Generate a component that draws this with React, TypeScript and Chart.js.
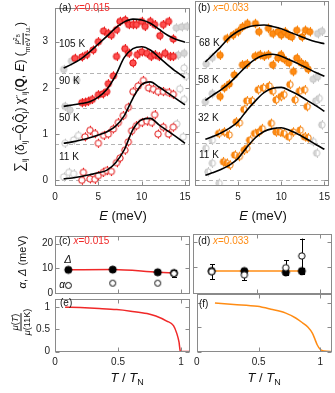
import React, { useEffect, useRef } from "react";
import { Chart, registerables } from "chart.js";
Chart.register(...registerables);

const FONT = "'Liberation Sans', Arial, Helvetica, sans-serif";

// ---------------- top panels: spectra ----------------
const BASELINES = [0, 0.78, 1.56, 2.33];
const FIT_E_A = [1, 2, 3, 4, 5, 6, 7, 8, 9, 10, 11, 12, 13, 14, 15];
const FIT_E_B = [1.2, 2, 3, 4, 5, 6, 7, 8, 9, 10, 11, 12, 13, 14, 15];

// (a) x = 0.015 : fitted curves
const FIT_A_105K = [2.43, 2.52, 2.63, 2.78, 2.95, 3.12, 3.3, 3.43, 3.49, 3.47, 3.4, 3.27, 3.14, 3.05, 2.99];
const FIT_A_90K = [1.6, 1.63, 1.66, 1.7, 1.8, 1.97, 2.27, 2.66, 2.85, 2.89, 2.82, 2.66, 2.5, 2.35, 2.22];
const FIT_A_50K = [0.8, 0.83, 0.87, 0.92, 0.98, 1.05, 1.17, 1.4, 1.78, 2.07, 2.13, 2.02, 1.89, 1.76, 1.63];
const FIT_A_11K = [0.03, 0.05, 0.08, 0.12, 0.16, 0.22, 0.38, 0.66, 1.1, 1.31, 1.34, 1.2, 1.07, 0.94, 0.8];

// (a) data points
const A105_E = [2.3, 3.1, 3.65, 4.4, 5.0, 5.6, 6.15, 6.5, 7.1, 7.5, 8.1, 8.5, 9.0, 9.4, 10.0, 10.4, 11.0, 11.5, 12.1, 12.5, 13.1, 13.65];
const A105_V = [2.64, 2.67, 2.72, 2.82, 3.0, 3.23, 3.18, 3.14, 3.26, 3.44, 3.47, 3.37, 3.37, 3.37, 3.44, 3.33, 3.44, 3.37, 3.13, 3.37, 3.44, 3.06];
const A90_E = [3.1, 3.5, 3.85, 4.3, 5.0, 5.5, 5.96, 6.15, 6.73, 7.1, 8.07, 8.5, 9.0, 9.5, 10.0, 10.6, 11.1, 11.5, 12.0, 12.7, 13.3, 13.65];
const A90_V = [1.68, 1.69, 1.71, 1.75, 1.85, 1.87, 1.92, 2.09, 2.26, 2.68, 2.85, 2.75, 2.54, 2.72, 2.78, 2.75, 2.68, 2.72, 2.68, 2.75, 2.68, 2.68];
const A50_E = [3.46, 4.04, 4.6, 5.0, 5.6, 6.15, 6.73, 7.3, 7.88, 8.46, 9.0, 9.6, 10.2, 10.8, 11.35, 11.9, 12.5, 13.1, 13.65];
const A50_V = [0.94, 1.08, 1.01, 0.8, 0.97, 1.0, 1.11, 1.25, 1.4, 1.58, 1.92, 2.04, 2.16, 2.0, 1.97, 1.92, 1.92, 1.9, 1.86];
const A11_E = [3.1, 3.27, 4.04, 4.6, 5.0, 5.58, 5.96, 6.5, 7.1, 7.5, 8.07, 8.46, 8.85, 9.4, 10.0, 10.6, 11.15, 11.5, 11.9, 12.5, 13.1, 13.65];
const A11_V = [0.0, 0.17, 0.03, 0.02, 0.1, 0.17, 0.21, 0.19, 0.38, 0.48, 0.65, 0.83, 1.07, 1.18, 1.25, 1.28, 1.25, 1.42, 1.0, 1.15, 1.0, 1.15];
const A_GRAY_FULL_E = [1.0, 1.9, 14.0, 14.6, 15.2, 1.15, 1.73, 2.5, 14.2, 14.9];
const A_GRAY_FULL_V = [2.4, 2.58, 3.3, 3.32, 3.33, 1.6, 1.52, 2.17, 2.71, 2.75];
const A_GRAY_OPEN_E = [14.9, 15.1, 1.15, 2.15, 2.7, 14.4, 14.9, 1.0, 1.6, 2.15, 14.05, 14.8];
const A_GRAY_OPEN_V = [2.43, 2.25, 0.8, 0.87, 0.97, 1.98, 1.75, 0.07, 0.17, 0.14, 1.22, 0.94];

// (b) x = 0.033 : fitted curves
const FIT_B_68K = [2.46, 2.6, 2.78, 2.97, 3.1, 3.18, 3.22, 3.23, 3.2, 3.15, 3.08, 3.01, 2.94, 2.88, 2.84];
const FIT_B_58K = [1.66, 1.76, 1.88, 2.02, 2.2, 2.38, 2.52, 2.6, 2.62, 2.58, 2.5, 2.42, 2.33, 2.24, 2.16];
const FIT_B_32K = [0.85, 0.9, 0.98, 1.08, 1.22, 1.45, 1.65, 1.82, 1.91, 1.93, 1.86, 1.77, 1.66, 1.55, 1.43];
const FIT_B_11K = [0.1, 0.15, 0.22, 0.31, 0.45, 0.68, 0.88, 1.01, 1.07, 1.09, 1.03, 0.95, 0.85, 0.74, 0.64];

// (b) data points
const B68_E = [2.9, 3.67, 4.4, 4.96, 5.5, 6.07, 7.0, 7.4, 8.5, 9.0, 9.6, 10.0, 10.4, 10.8, 11.2, 11.8, 12.4, 12.8, 13.3];
const B68_V = [2.6, 2.95, 3.02, 3.09, 3.19, 3.26, 3.26, 3.09, 3.16, 3.05, 3.09, 3.02, 3.09, 3.02, 2.98, 3.12, 2.98, 3.12, 3.09];
const B58_E = [2.9, 3.4, 3.96, 4.55, 5.5, 6.0, 6.96, 7.5, 8.0, 8.5, 9.0, 9.6, 9.96, 10.3, 10.85, 11.4, 11.8, 12.3, 12.8, 13.1];
const B58_V = [1.74, 1.92, 2.0, 2.19, 2.4, 2.42, 2.58, 2.61, 2.58, 2.61, 2.4, 2.54, 2.61, 2.52, 2.44, 2.26, 2.54, 2.44, 2.4, 2.31];
const B32_E = [2.74, 3.4, 3.96, 4.78, 5.15, 5.67, 6.0, 6.6, 7.33, 7.9, 8.6, 9.0, 9.4, 9.96, 10.3, 11.0, 11.6, 12.1, 12.7, 13.0];
const B32_V = [0.97, 1.0, 0.94, 1.21, 1.19, 1.47, 1.65, 1.65, 1.88, 1.92, 1.96, 1.85, 1.67, 1.74, 1.78, 1.99, 1.67, 1.85, 1.88, 1.53];
const B11_E = [3.3, 3.67, 4.04, 4.6, 5.15, 5.7, 6.0, 6.33, 6.9, 7.4, 7.8, 8.85, 9.4, 9.8, 10.3, 10.85, 11.4, 12.2, 12.7, 13.1];
const B11_V = [0.38, 0.35, 0.31, 0.52, 0.49, 0.62, 0.66, 0.83, 0.97, 1.0, 1.07, 1.18, 1.0, 1.0, 0.97, 0.9, 1.0, 1.04, 0.9, 0.88];
const B_GRAY_FULL_E = [1.3, 2.0, 14.2, 14.7, 1.2, 2.0, 13.7, 14.2];
const B_GRAY_FULL_V = [2.42, 2.55, 3.05, 3.1, 1.63, 1.8, 2.1, 2.15];
const B_GRAY_OPEN_E = [1.26, 2.0, 14.0, 14.4, 1.5, 2.0, 2.8, 13.7, 14.1, 14.7];
const B_GRAY_OPEN_V = [0.66, 0.83, 1.65, 1.7, 0.17, 0.35, -0.07, 0.8, 0.56, 1.15];
const SPEC_ERR = 0.1;

// ---------------- middle panels: alpha, Delta ----------------
const TN_C = [0.106, 0.458, 0.815, 0.944];
const DELTA_C = [9.4, 9.5, 8.4, 8.1];
const ALPHA_C = [3.1, 4.0, 4.0, 7.9];
const ALPHA_C_ERR = [0, 0, 0, 1.6];
const TN_D = [0.147, 0.404, 0.73, 0.856];
const DELTA_D = [8.6, 8.6, 8.1, 8.6];
const DELTA_D_ERR = [0, 0.7, 0.8, 1.2];
const ALPHA_D = [8.35, 7.1, 9.9, 14.5];
const ALPHA_D_ERR = [3.0, 2.0, 2.9, 6.8];
const TN_D_LINE = [0.147, 0.856];
const DELTA_D_LINE = [8.6, 8.6];

// ---------------- bottom panels: mu(T)/mu(11K) ----------------
const MU_E_T = [0.08, 0.2, 0.35, 0.49, 0.6, 0.73, 0.8, 0.886, 0.94, 0.966, 0.984, 0.993, 1.0, 1.07];
const MU_E = [1.0, 0.99, 0.97, 0.945, 0.91, 0.857, 0.8, 0.687, 0.585, 0.41, 0.21, 0.02, 0, 0];
const MU_F_T = [0.147, 0.3, 0.49, 0.6, 0.72, 0.8, 0.856, 0.9, 0.935, 0.955, 0.974, 1.0, 1.03, 1.1];
const MU_F = [1.0, 0.97, 0.93, 0.87, 0.79, 0.69, 0.59, 0.5, 0.38, 0.26, 0.14, 0.04, 0.01, 0];

// ---------------- styles ----------------
const RED = "#f02828";
const RED_EDGE = "#e01010";
const ORANGE = "#ff8c14";
const ORANGE_EDGE = "#f07800";
const GRAY_EDGE = "#c4c4c4";

function mkMarker(fill: string, edge: string, mode: string, r = 3.2) {
  const s = Math.ceil(2 * r + 3);
  const c = document.createElement("canvas");
  c.width = s;
  c.height = s;
  const g = c.getContext("2d")!;
  const cx = s / 2;
  g.beginPath();
  g.arc(cx, cx, r, 0, Math.PI * 2);
  g.fillStyle = mode === "full" ? fill : "#ffffff";
  g.fill();
  if (mode === "half") {
    g.beginPath();
    g.arc(cx, cx, r, Math.PI / 2, (3 * Math.PI) / 2);
    g.closePath();
    g.fillStyle = fill;
    g.fill();
  }
  g.beginPath();
  g.arc(cx, cx, r, 0, Math.PI * 2);
  g.lineWidth = 1;
  g.strokeStyle = edge;
  g.stroke();
  return c;
}

const xy = (xs: number[], ys: number[]) => xs.map((x, i) => ({ x, y: ys[i] }));
const pts = (xs: number[], ys: number[], style: any, errColor: string, errY: any, order = 2, errCap = 0) => ({
  type: "scatter",
  data: xy(xs, ys),
  pointStyle: style,
  pointRadius: 4,
  pointHoverRadius: 4,
  errY,
  errColor,
  errCap,
  order,
});
const curve = (xs: number[], ys: number[], color: string, width = 1.6, order = 0) => ({
  type: "line",
  data: xy(xs, ys),
  borderColor: color,
  borderWidth: width,
  pointRadius: 0,
  cubicInterpolationMode: "monotone",
  fill: false,
  order,
});

type Cfg = {
  l: number; t: number; w: number; h: number;
  padL: number; padT: number; padR: number; padB: number;
  x: number[]; y: number[];
  xTicks: number[]; yTicks: number[];
  xLab?: (v: number) => string; yLab?: (v: number) => string;
  xPad?: number; yPad?: number;
  baselines?: number[];
  datasets: () => any[];
};

function Panel({ c }: { c: Cfg }) {
  const ref = useRef<HTMLCanvasElement>(null);
  const W = c.w + c.padL + c.padR;
  const H = c.h + c.padT + c.padB;
  useEffect(() => {
    const deco = {
      id: "deco",
      beforeDatasetsDraw(chart: any) {
        const { ctx, chartArea: a, scales } = chart;
        const xs = scales.x, ys = scales.y;
        ctx.save();
        ctx.beginPath();
        ctx.rect(a.left, a.top, a.right - a.left, a.bottom - a.top);
        ctx.clip();
        ctx.lineWidth = 1;
        ctx.strokeStyle = "#b4b4b4";
        ctx.setLineDash([4, 3]);
        for (const b of c.baselines || []) {
          const py = Math.round(ys.getPixelForValue(b)) + 0.5;
          ctx.beginPath();
          ctx.moveTo(a.left, py);
          ctx.lineTo(a.right, py);
          ctx.stroke();
        }
        ctx.setLineDash([]);
        chart.data.datasets.forEach((ds: any) => {
          if (!ds.errY) return;
          ctx.strokeStyle = ds.errColor;
          ctx.lineWidth = 1;
          ds.data.forEach((p: any, i: number) => {
            const e = Array.isArray(ds.errY) ? ds.errY[i] : ds.errY;
            if (!e) return;
            const px = Math.round(xs.getPixelForValue(p.x)) + 0.5;
            const y1 = ys.getPixelForValue(p.y - e);
            const y2 = ys.getPixelForValue(p.y + e);
            ctx.beginPath();
            ctx.moveTo(px, y1);
            ctx.lineTo(px, y2);
            if (ds.errCap) {
              ctx.moveTo(px - ds.errCap, Math.round(y1) + 0.5);
              ctx.lineTo(px + ds.errCap, Math.round(y1) + 0.5);
              ctx.moveTo(px - ds.errCap, Math.round(y2) + 0.5);
              ctx.lineTo(px + ds.errCap, Math.round(y2) + 0.5);
            }
            ctx.stroke();
          });
        });
        ctx.restore();
      },
      afterDraw(chart: any) {
        const { ctx, chartArea: a, scales } = chart;
        const xs = scales.x, ys = scales.y;
        const L = Math.round(a.left) + 0.5, R = Math.round(a.right) - 0.5;
        const T = Math.round(a.top) + 0.5, B = Math.round(a.bottom) - 0.5;
        ctx.save();
        ctx.strokeStyle = "#8a8a8a";
        ctx.lineWidth = 1;
        ctx.strokeRect(L, T, R - L, B - T);
        ctx.beginPath();
        for (const v of c.xTicks) {
          const px = Math.round(xs.getPixelForValue(v)) + 0.5;
          ctx.moveTo(px, B); ctx.lineTo(px, B - 4);
          ctx.moveTo(px, T); ctx.lineTo(px, T + 4);
        }
        for (const v of c.yTicks) {
          const py = Math.round(ys.getPixelForValue(v)) + 0.5;
          ctx.moveTo(L, py); ctx.lineTo(L + 4, py);
          ctx.moveTo(R, py); ctx.lineTo(R - 4, py);
        }
        ctx.stroke();
        ctx.restore();
      },
    };
    const tickFont = { family: FONT, size: 10 };
    const chart = new Chart(ref.current!, {
      type: "scatter",
      data: { datasets: c.datasets() as any },
      options: {
        animation: false,
        responsive: false,
        maintainAspectRatio: false,
        devicePixelRatio: 1,
        layout: { padding: { left: 0, top: c.padT, right: c.padR, bottom: 0 }, autoPadding: false },
        plugins: { legend: { display: false }, tooltip: { enabled: false } },
        events: [],
        scales: {
          x: {
            type: "linear", min: c.x[0], max: c.x[1],
            grid: { display: false, drawTicks: false }, border: { display: false },
            ticks: {
              display: !!c.xLab, font: tickFont, color: "#222", padding: c.xPad ?? 4,
              maxRotation: 0, autoSkip: false,
              callback: (v: any) => (c.xLab ? c.xLab(Number(v)) : ""),
            },
            afterBuildTicks: (s: any) => { s.ticks = c.xTicks.map((v) => ({ value: v })); },
            afterFit: (s: any) => { s.height = c.padB; },
          },
          y: {
            type: "linear", min: c.y[0], max: c.y[1],
            grid: { display: false, drawTicks: false }, border: { display: false },
            ticks: {
              display: !!c.yLab, font: tickFont, color: "#222", padding: c.yPad ?? 4,
              autoSkip: false,
              callback: (v: any) => (c.yLab ? c.yLab(Number(v)) : ""),
            },
            afterBuildTicks: (s: any) => { s.ticks = c.yTicks.map((v) => ({ value: v })); },
            afterFit: (s: any) => { s.width = c.padL; },
          },
        },
      } as any,
      plugins: [deco],
    });
    return () => chart.destroy();
  }, []);
  return (
    <canvas
      ref={ref}
      width={W}
      height={H}
      style={{ position: "absolute", left: c.l - c.padL, top: c.t - c.padT, width: W, height: H }}
    />
  );
}

const str = (v: number) => String(v);

const specDatasetsA = () => {
  const full = mkMarker("#ff5050", RED_EDGE, "full");
  const open = mkMarker("#fff", RED_EDGE, "open");
  const gFull = mkMarker("#d6d6d6", GRAY_EDGE, "full");
  const gOpen = mkMarker("#fff", GRAY_EDGE, "open");
  return [
    curve(FIT_E_A, FIT_A_105K, "#000"),
    curve(FIT_E_A, FIT_A_90K, "#000"),
    curve(FIT_E_A, FIT_A_50K, "#000"),
    curve(FIT_E_A, FIT_A_11K, "#000"),
    pts(A105_E, A105_V, full, RED, SPEC_ERR),
    pts(A90_E, A90_V, full, RED, SPEC_ERR),
    pts(A50_E, A50_V, open, RED, SPEC_ERR),
    pts(A11_E, A11_V, open, RED, SPEC_ERR),
    pts(A_GRAY_FULL_E, A_GRAY_FULL_V, gFull, GRAY_EDGE, SPEC_ERR, 3),
    pts(A_GRAY_OPEN_E, A_GRAY_OPEN_V, gOpen, GRAY_EDGE, SPEC_ERR, 3),
  ];
};

const specDatasetsB = () => {
  const full = mkMarker(ORANGE, ORANGE_EDGE, "full");
  const half = mkMarker(ORANGE, ORANGE_EDGE, "half");
  const gFull = mkMarker("#d6d6d6", GRAY_EDGE, "full");
  const gHalf = mkMarker("#d6d6d6", GRAY_EDGE, "half");
  return [
    curve(FIT_E_B, FIT_B_68K, "#000"),
    curve(FIT_E_B, FIT_B_58K, "#000"),
    curve(FIT_E_B, FIT_B_32K, "#000"),
    curve(FIT_E_B, FIT_B_11K, "#000"),
    pts(B68_E, B68_V, full, ORANGE, SPEC_ERR),
    pts(B58_E, B58_V, full, ORANGE, SPEC_ERR),
    pts(B32_E, B32_V, half, ORANGE, SPEC_ERR),
    pts(B11_E, B11_V, half, ORANGE, SPEC_ERR),
    pts(B_GRAY_FULL_E, B_GRAY_FULL_V, gFull, GRAY_EDGE, SPEC_ERR, 3),
    pts(B_GRAY_OPEN_E, B_GRAY_OPEN_V, gHalf, GRAY_EDGE, SPEC_ERR, 3),
  ];
};

const TOP_Y = [-0.125, 3.73];
const MID_Y = [-0.39, 23.1];
const BOT_Y = [-0.01, 1.184];

const PANELS: Cfg[] = [
  {
    l: 55, t: 1, w: 135, h: 185, padL: 25, padT: 6, padR: 6, padB: 22,
    x: [0, 15.58], y: TOP_Y, xTicks: [0, 5, 10, 15], yTicks: [0, 1, 2, 3],
    xLab: str, yLab: str, xPad: 5, yPad: 7, baselines: BASELINES, datasets: specDatasetsA,
  },
  {
    l: 193, t: 1, w: 139, h: 185, padL: 3, padT: 6, padR: 3, padB: 22,
    x: [0, 15.56], y: TOP_Y, xTicks: [0, 5, 10, 15], yTicks: [0, 1, 2, 3],
    xLab: (v) => (v === 0 ? "" : String(v)), xPad: 5, baselines: BASELINES, datasets: specDatasetsB,
  },
  {
    l: 55, t: 234, w: 135, h: 60, padL: 25, padT: 6, padR: 3, padB: 8,
    x: [0, 1.071], y: MID_Y, xTicks: [0, 0.5, 1], yTicks: [0, 10, 20], yLab: str, yPad: 2,
    datasets: () => [
      curve(TN_C, DELTA_C, RED, 1.5, 2),
      pts(TN_C, DELTA_C, mkMarker("#000", "#000", "full", 3.6), "#000", null, 1),
      pts(TN_C, ALPHA_C, mkMarker("#fff", "#000", "open", 3), "#000", ALPHA_C_ERR, 0, 2.5),
    ],
  },
  {
    l: 193, t: 234, w: 139, h: 60, padL: 3, padT: 6, padR: 3, padB: 8,
    x: [0, 1.094], y: MID_Y, xTicks: [0, 0.5, 1], yTicks: [0, 10, 20],
    datasets: () => [
      curve(TN_D_LINE, DELTA_D_LINE, ORANGE, 1.5, 2),
      pts(TN_D, DELTA_D, mkMarker("#000", "#000", "full", 3.6), "#000", DELTA_D_ERR, 1, 2.5),
      pts(TN_D, ALPHA_D, mkMarker("#fff", "#000", "open", 3.2), "#000", ALPHA_D_ERR, 0, 2.5),
    ],
  },
  {
    l: 55, t: 294, w: 135, h: 58, padL: 25, padT: 6, padR: 6, padB: 20,
    x: [0, 1.071], y: BOT_Y, xTicks: [0, 0.5, 1], yTicks: [0, 0.5, 1], xLab: str, yLab: str, xPad: 4, yPad: 5,
    datasets: () => [curve(MU_E_T, MU_E, RED, 1.5)],
  },
  {
    l: 193, t: 294, w: 139, h: 58, padL: 3, padT: 6, padR: 3, padB: 20,
    x: [0, 1.094], y: BOT_Y, xTicks: [0, 0.5, 1], yTicks: [0, 0.5, 1], xLab: str, xPad: 4,
    datasets: () => [curve(MU_F_T, MU_F, ORANGE, 1.5)],
  },
];

function Txt({ x, y, anchor = "l", size = 10, color = "#111", children, style }: any) {
  const tx = anchor === "l" ? "0" : anchor === "c" ? "-50%" : "-100%";
  return (
    <div
      style={{
        position: "absolute", left: x, top: y, transform: `translate(${tx},-50%)`,
        whiteSpace: "nowrap", font: `${size}px ${FONT}`, color, lineHeight: 1, ...style,
      }}
    >
      {children}
    </div>
  );
}

function VTxt({ x, y, size = 10, children }: any) {
  return (
    <div
      style={{
        position: "absolute", left: x, top: y, transform: "translate(-50%,-50%) rotate(-90deg)",
        whiteSpace: "nowrap", font: `${size}px ${FONT}`, color: "#111", lineHeight: 1,
      }}
    >
      {children}
    </div>
  );
}

const sub = (t: any, fs = 8) => <span style={{ fontSize: fs, verticalAlign: "-0.3em" }}>{t}</span>;
const sup = (t: any, fs = 8) => <span style={{ fontSize: fs, verticalAlign: "0.45em" }}>{t}</span>;

export default function App() {
  return (
    <div style={{ position: "absolute", left: 0, top: 0, width: 335, height: 393, background: "#fff", overflow: "hidden" }}>
      {PANELS.map((p, i) => (
        <Panel key={i} c={p} />
      ))}

      {/* panel captions */}
      <Txt x={59} y={8}>(a) <span style={{ color: RED }}><i>x</i>=0.015</span></Txt>
      <Txt x={198} y={8}>(b) <span style={{ color: ORANGE }}><i>x</i>=0.033</span></Txt>
      <Txt x={59} y={44}>105 K</Txt>
      <Txt x={59} y={81}>90 K</Txt>
      <Txt x={59} y={118}>50 K</Txt>
      <Txt x={59} y={157}>11 K</Txt>
      <Txt x={199} y={43}>68 K</Txt>
      <Txt x={198} y={80}>58 K</Txt>
      <Txt x={198} y={118}>32 K</Txt>
      <Txt x={199} y={155}>11 K</Txt>

      <Txt x={123} y={215} anchor="c" size={13}><i>E</i> (meV)</Txt>
      <Txt x={263} y={215} anchor="c" size={13}><i>E</i> (meV)</Txt>

      <Txt x={59} y={241}>(c) <span style={{ color: RED }}><i>x</i>=0.015</span></Txt>
      <Txt x={198} y={241}>(d) <span style={{ color: ORANGE }}><i>x</i>=0.033</span></Txt>
      <Txt x={68} y={259} anchor="c" size={11}><i>Δ</i></Txt>
      <Txt x={62} y={285} anchor="c" size={10}><i>α</i></Txt>

      <Txt x={60} y={303}>(e)</Txt>
      <Txt x={199} y={304}>(f)</Txt>

      <Txt x={127} y={379} anchor="c" size={13}><i>T</i> / <i>T</i>{sub("N", 9)}</Txt>
      <Txt x={264} y={379} anchor="c" size={13}><i>T</i> / <i>T</i>{sub("N", 9)}</Txt>

      {/* y-axis titles */}
      <VTxt x={21} y={97} size={12}>
        <span style={{ fontSize: 14 }}>∑</span>{sub("ij")} (δ{sub("ij")}−Q̂{sub("i")}Q̂{sub("j")}) χ{sup("″")}{sub("ij")}(<b>Q</b>, <i>E</i>){" "}
        (
        <span style={{ display: "inline-flex", flexDirection: "column", alignItems: "center", verticalAlign: "middle", fontSize: 7, lineHeight: "8px" }}>
          <span style={{ borderBottom: "0.8px solid #111", padding: "0 1px" }}>
            <i>μ</i>{sup("2", 5)}{sub("B", 5)}
          </span>
          <span>meV f.u.</span>
        </span>
        )
      </VTxt>
      <VTxt x={22} y={262} size={11}>
        <i>α</i>, <i>Δ</i> (meV)
      </VTxt>
      <VTxt x={21} y={322} size={9}>
        <span style={{ display: "inline-flex", flexDirection: "column", alignItems: "center" }}>
          <span style={{ borderBottom: "0.8px solid #111", padding: "0 1px 1px" }}>
            <i>μ</i>(<i>T</i>)
          </span>
          <span style={{ paddingTop: 1 }}>
            <i>μ</i>(11K)
          </span>
        </span>
      </VTxt>
    </div>
  );
}
